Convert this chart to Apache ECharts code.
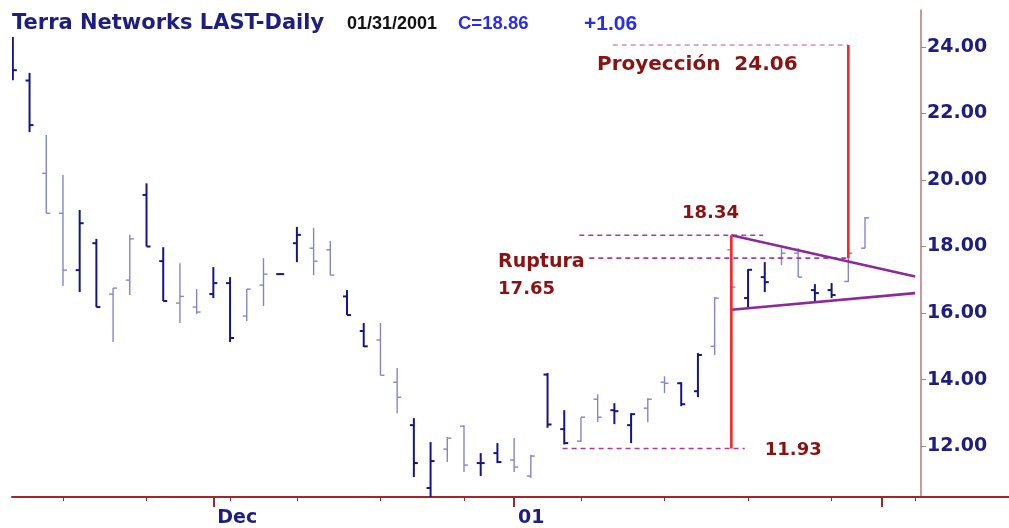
<!DOCTYPE html>
<html>
<head>
<meta charset="utf-8">
<script src="https://cdn.jsdelivr.net/npm/echarts@6/dist/echarts.min.js"></script>
<style>
  html, body { margin: 0; padding: 0; background: #fff; }
  #chart { width: 1009px; height: 528px; }
</style>
</head>
<body>
<div id="chart"></div>
<script>
// trading days, 15 Nov 2000 .. 31 Jan 2001
const dates = [
  '11/15/2000', '11/16/2000', '11/17/2000', '11/20/2000', '11/21/2000', '11/22/2000', '11/23/2000', '11/24/2000',
  '11/27/2000', '11/28/2000', '11/29/2000', '11/30/2000', '12/01/2000', '12/04/2000', '12/05/2000', '12/06/2000',
  '12/07/2000', '12/11/2000', '12/12/2000', '12/13/2000', '12/14/2000', '12/15/2000', '12/18/2000', '12/19/2000',
  '12/20/2000', '12/21/2000', '12/22/2000', '12/27/2000', '12/28/2000', '12/29/2000', '01/02/2001', '01/03/2001',
  '01/04/2001', '01/05/2001', '01/08/2001', '01/09/2001', '01/10/2001', '01/11/2001', '01/12/2001', '01/15/2001',
  '01/16/2001', '01/17/2001', '01/18/2001', '01/19/2001', '01/22/2001', '01/23/2001', '01/24/2001', '01/25/2001',
  '01/26/2001', '01/29/2001', '01/30/2001', '01/31/2001'
]

const opens = [
  24.2, 22.99, 20.2, 19.0, 17.29, 18.1, 16.57, 16.99, 19.55, 17.56,
  16.3, 16.18, 16.57, 16.9, 15.91, 16.84, 17.17, 18.1, 17.95, 17.9,
  16.5, 15.46, 15.19, 13.92, 12.63, 10.74, 11.91, 12.6, 11.49, 11.79,
  11.58, 11.1, 14.15, 12.51, 12.15, 13.41, 13.08, 12.63, 13.14, 13.92,
  13.89, 13.65, 15.0, 17.9, 16.45, 17.08, 17.65, 17.8, 16.69, 16.69,
  16.95, 17.95
]
const highs = [
  24.3, 23.22, 21.35, 20.15, 19.1, 18.23, 16.75, 18.35, 19.9, 17.98,
  17.5, 16.72, 17.38, 17.08, 16.72, 17.65, 17.2, 18.59, 18.56, 18.17,
  16.69, 15.7, 15.7, 14.35, 12.84, 12.12, 12.27, 12.63, 11.79, 12.09,
  12.24, 11.73, 14.2, 13.08, 12.87, 13.56, 13.29, 12.99, 13.44, 14.1,
  13.92, 14.8, 16.48, 18.34, 17.32, 17.53, 17.95, 17.95, 16.87, 16.9,
  17.8, 18.89
]
const lows = [
  23.0, 21.44, 19.0, 16.81, 16.63, 16.18, 15.13, 16.54, 18.0, 16.36,
  15.7, 15.97, 16.45, 15.13, 15.76, 16.21, 17.15, 17.53, 17.14, 17.14,
  15.94, 14.98, 14.13, 12.99, 11.07, 10.44, 11.52, 11.22, 11.1, 11.49,
  11.22, 11.04, 12.55, 12.05, 12.12, 12.72, 12.66, 12.09, 12.72, 13.59,
  13.2, 13.47, 14.74, 16.1, 16.12, 16.63, 17.44, 17.08, 16.33, 16.45,
  16.93, 17.95
]
const closes = [
  23.3, 21.65, 19.0, 17.29, 18.7, 16.18, 16.75, 18.23, 18.0, 16.36,
  16.5, 16.03, 16.9, 15.25, 16.72, 17.17, 17.17, 18.35, 17.56, 17.14,
  15.94, 15.0, 14.13, 13.47, 11.49, 11.55, 12.24, 11.43, 11.49, 11.52,
  11.37, 11.7, 12.65, 12.09, 12.87, 12.87, 13.05, 12.96, 13.41, 13.89,
  13.26, 14.74, 16.45, 16.78, 17.3, 16.93, 17.8, 17.08, 16.6, 16.54,
  17.8, 18.86
]

// x axis ticks (index of trading day)
const weekTicks = [3, 8, 13, 17, 22, 27, 34, 39, 44, 49, 54]
const monthTicks = [12, 30, 52]
const monthLabels = ['Dec', '01', '']
const priceTicks = [12, 14, 16, 18, 20, 22, 24]

// pattern annotation
const patternHigh = 18.34
const patternLow = 11.93
const breakout = 17.65
const projection = 24.06
const patternStart = 43
const breakoutDay = 50
const triangleUpper = [[43, 18.34], [54, 17.1]]
const triangleLower = [[43, 16.1], [54, 16.6]]
const guideLevels = [projection, patternHigh, breakout, patternLow]
const guideFrom = [35.9, 33.9, 34.5, 32.9]
const guideTo = [50, 44.9, 50, 43.8]

const last = closes.length - 1
const change = closes[last] - closes[last - 1]

const ohlc = dates.map((d, i) => [i, opens[i], closes[i], lows[i], highs[i]])

function renderBar(params, api) {
  const x = api.value(0)
  const o = api.coord([x, api.value(1)])
  const c = api.coord([x, api.value(2)])
  const l = api.coord([x, api.value(3)])
  const h = api.coord([x, api.value(4)])
  // the scanned chart alternates dark and faint bars
  const faint = params.dataIndex % 4 >= 2
  const style = {
    stroke: faint ? '#8484cc' : '#15158a',
    lineWidth: faint ? 1.4 : 2
  }
  return {
    type: 'group',
    children: [
      { type: 'line', shape: { x1: h[0], y1: h[1], x2: l[0], y2: l[1] }, style },
      { type: 'line', shape: { x1: o[0] - 4, y1: o[1], x2: o[0], y2: o[1] }, style },
      { type: 'line', shape: { x1: c[0], y1: c[1], x2: c[0] + 4, y2: c[1] }, style }
    ]
  }
}

function segment(data, color, width, dashed, z) {
  return {
    type: 'line',
    data,
    symbol: 'none',
    silent: true,
    z,
    lineStyle: { color, width, type: dashed ? [5, 4] : 'solid' }
  }
}

const font = 'DejaVu Sans'
const narrow = 'Liberation Sans'
const redText = { color: '#8a1212', fontFamily: font, fontWeight: 'bold', textBorderWidth: 0, opacity: 1 }
const axisRed = '#a02828'

const notes = [
  [34.96, 23.46, `Proyección  ${projection.toFixed(2)}`, 20],
  [40.05, 19.0, patternHigh.toFixed(2), 18],
  [29.04, 17.53, 'Ruptura', 19],
  [29.04, 16.72, breakout.toFixed(2), 18],
  [45.0, 11.88, patternLow.toFixed(2), 18]
]

const chart = echarts.init(document.getElementById('chart'))

const titleBase = { fontWeight: 'bold', verticalAlign: 'middle' }

chart.setOption({
  animation: false,
  backgroundColor: '#fff',
  grid: [
    { left: 12, right: 88, top: 10, bottom: 31 },
    { left: 921, right: 0, top: 10, bottom: 31 }
  ],
  graphic: [
    { type: 'text', x: 12, y: 24, style: { ...titleBase, text: 'Terra Networks LAST-Daily', fontFamily: font, fontSize: 21, fill: '#1e1e82' } },
    { type: 'text', x: 347, y: 24, style: { ...titleBase, text: dates[last], fontFamily: narrow, fontSize: 18, fill: '#111' } },
    { type: 'text', x: 458, y: 24, style: { ...titleBase, text: `C=${closes[last].toFixed(2)}`, fontFamily: narrow, fontSize: 18.5, fill: '#2a2af5' } },
    { type: 'text', x: 584, y: 24, style: { ...titleBase, text: `+${change.toFixed(2)}`, fontFamily: narrow, fontSize: 21, fill: '#2a2af5' } }
  ],
  xAxis: [
    {
      type: 'value',
      min: -0.05,
      max: 54.35,
      splitLine: { show: false },
      axisLine: { show: true, onZero: false, lineStyle: { color: axisRed, width: 2 } },
      axisTick: { show: true, customValues: weekTicks, length: 4, lineStyle: { color: axisRed } },
      axisLabel: { show: false }
    },
    {
      type: 'value',
      position: 'bottom',
      min: -0.05,
      max: 54.35,
      splitLine: { show: false },
      axisLine: { show: false, onZero: false },
      axisTick: { show: true, customValues: monthTicks, length: 10, lineStyle: { color: axisRed, width: 2 } },
      axisLabel: {
        show: true,
        customValues: monthTicks,
        formatter: v => monthLabels[monthTicks.indexOf(v)],
        align: 'left',
        margin: 12,
        padding: [0, 0, 0, 4],
        color: '#1e1e82',
        fontFamily: font,
        fontWeight: 'bold',
        fontSize: 19
      }
    },
    {
      // axis line carried on past the price scale
      type: 'value',
      gridIndex: 1,
      min: 0,
      max: 1,
      splitLine: { show: false },
      axisLine: { show: true, onZero: false, lineStyle: { color: axisRed, width: 2 } },
      axisTick: { show: false },
      axisLabel: { show: false }
    }
  ],
  yAxis: [
    {
      type: 'value',
      position: 'right',
      min: 10.47,
      max: 25.11,
      splitLine: { show: false },
      axisLine: { show: true, onZero: false, lineStyle: { color: '#b87878', width: 1.5 } },
      axisTick: { show: true, customValues: priceTicks, length: 5, lineStyle: { color: '#b87878' } },
      axisLabel: {
        customValues: priceTicks,
        formatter: v => v.toFixed(2),
        margin: 6,
        color: '#1e1e82',
        fontFamily: font,
        fontWeight: 'bold',
        fontSize: 19
      }
    },
    {
      type: 'value',
      gridIndex: 1,
      show: false
    }
  ],
  series: [
    {
      type: 'custom',
      renderItem: renderBar,
      data: ohlc,
      clip: true,
      z: 2
    },
    ...guideLevels.map((lv, i) =>
      segment([[guideFrom[i], lv], [guideTo[i], lv]], i === 0 ? '#d08cd0' : '#a83aa8', 1.6, true, 3)),
    segment(triangleUpper, '#8c2a98', 2.6, false, 4),
    segment(triangleLower, '#8c2a98', 2.6, false, 4),
    segment([[patternStart, patternLow], [patternStart, patternHigh]], '#ff2424', 2.6, false, 5),
    segment([[breakoutDay, breakout], [breakoutDay, projection]], '#ff2424', 2.6, false, 5),
    {
      type: 'scatter',
      symbolSize: 0,
      silent: true,
      z: 6,
      itemStyle: { opacity: 1 },
      data: notes.map(n => ({
        value: [n[0], n[1]],
        label: {
          show: true,
          formatter: n[2],
          position: [0, 0],
          align: 'left',
          verticalAlign: 'middle',
          fontSize: n[3],
          ...redText
        }
      }))
    }
  ]
})
</script>
</body>
</html>
